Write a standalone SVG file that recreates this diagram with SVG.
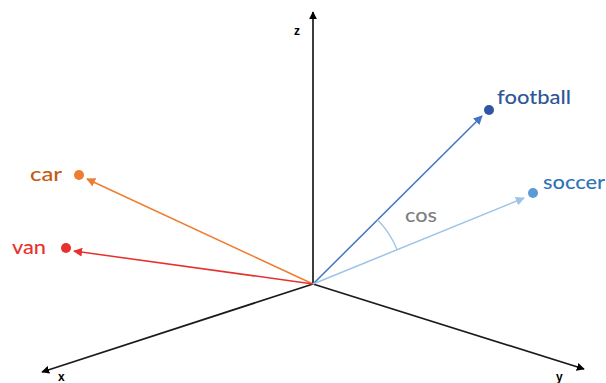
<svg xmlns="http://www.w3.org/2000/svg" width="606" height="383" viewBox="0 0 606 383">
<style>
text{font-family:Lato,"Open Sans","Liberation Sans",sans-serif;font-size:19px;font-weight:500}
.ax{stroke:#1a1a1a;stroke-width:1.7;fill:none}
.axl{font-family:"Liberation Sans",Arial,sans-serif;font-size:12px;font-weight:bold;fill:#000}
.v{stroke-width:1.5;fill:none}
</style>
<defs>
<marker id="ak" viewBox="0 0 10 10" refX="9" refY="5" markerWidth="8" markerHeight="8" markerUnits="userSpaceOnUse" orient="auto"><path d="M0,0L10,5L0,10z" fill="#000"/></marker>
<marker id="aor" viewBox="0 0 10 10" refX="9" refY="5" markerWidth="9" markerHeight="9" markerUnits="userSpaceOnUse" orient="auto"><path d="M0,0L10,5L0,10z" fill="#ED7D31"/></marker>
<marker id="ared" viewBox="0 0 10 10" refX="9" refY="5" markerWidth="9" markerHeight="9" markerUnits="userSpaceOnUse" orient="auto"><path d="M0,0L10,5L0,10z" fill="#E8302F"/></marker>
<marker id="abl" viewBox="0 0 10 10" refX="9" refY="5" markerWidth="9" markerHeight="9" markerUnits="userSpaceOnUse" orient="auto"><path d="M0,0L10,5L0,10z" fill="#4472C4"/></marker>
<marker id="alb" viewBox="0 0 10 10" refX="9" refY="5" markerWidth="9" markerHeight="9" markerUnits="userSpaceOnUse" orient="auto"><path d="M0,0L10,5L0,10z" fill="#9DC3E6"/></marker>
</defs>
<g id="connectors">
<line class="ax" x1="313" y1="284" x2="313" y2="12" marker-end="url(#ak)"/>
<line class="ax" x1="313" y1="284" x2="42" y2="372" marker-end="url(#ak)"/>
<line class="ax" x1="313" y1="284" x2="584" y2="369" marker-end="url(#ak)"/>
<line class="v" stroke="#ED7D31" x1="313" y1="284" x2="87" y2="179" marker-end="url(#aor)"/>
<line class="v" stroke="#E8302F" x1="313" y1="284" x2="74" y2="251" marker-end="url(#ared)"/>
<line class="v" stroke="#4472C4" x1="313" y1="284" x2="482" y2="116" marker-end="url(#abl)"/>
<line class="v" stroke="#9DC3E6" x1="313" y1="284" x2="524" y2="198" marker-end="url(#alb)"/>
<path d="M377.5,219.8A91,91 0 0 1 397,249.4" stroke="#9DC3E6" stroke-width="1.3" fill="none"/>
</g>
<g id="axis-z"><text class="axl" x="294" y="35">z</text></g>
<g id="axis-x"><text class="axl" x="58" y="381">x</text></g>
<g id="axis-y"><text class="axl" x="556" y="381">y</text></g>
<g id="car"><circle cx="79" cy="175" r="5" fill="#ED7D31"/><text x="30" y="181" fill="#C55A11" textLength="32" lengthAdjust="spacingAndGlyphs">car</text></g>
<g id="van"><circle cx="66" cy="248" r="5" fill="#E8302F"/><text x="12" y="254" fill="#E8302F" textLength="34" lengthAdjust="spacingAndGlyphs">van</text></g>
<g id="football"><circle cx="489" cy="110" r="5" fill="#2F55A4"/><text x="497" y="104" fill="#2F5597" textLength="74" lengthAdjust="spacingAndGlyphs">football</text></g>
<g id="soccer"><circle cx="533" cy="193" r="5" fill="#5B9BD5"/><text x="543" y="189" fill="#2E75B6" textLength="62" lengthAdjust="spacingAndGlyphs">soccer</text></g>
<g id="cos"><text x="405" y="222" fill="#7F7F7F" textLength="32" lengthAdjust="spacingAndGlyphs">cos</text></g>
</svg>
